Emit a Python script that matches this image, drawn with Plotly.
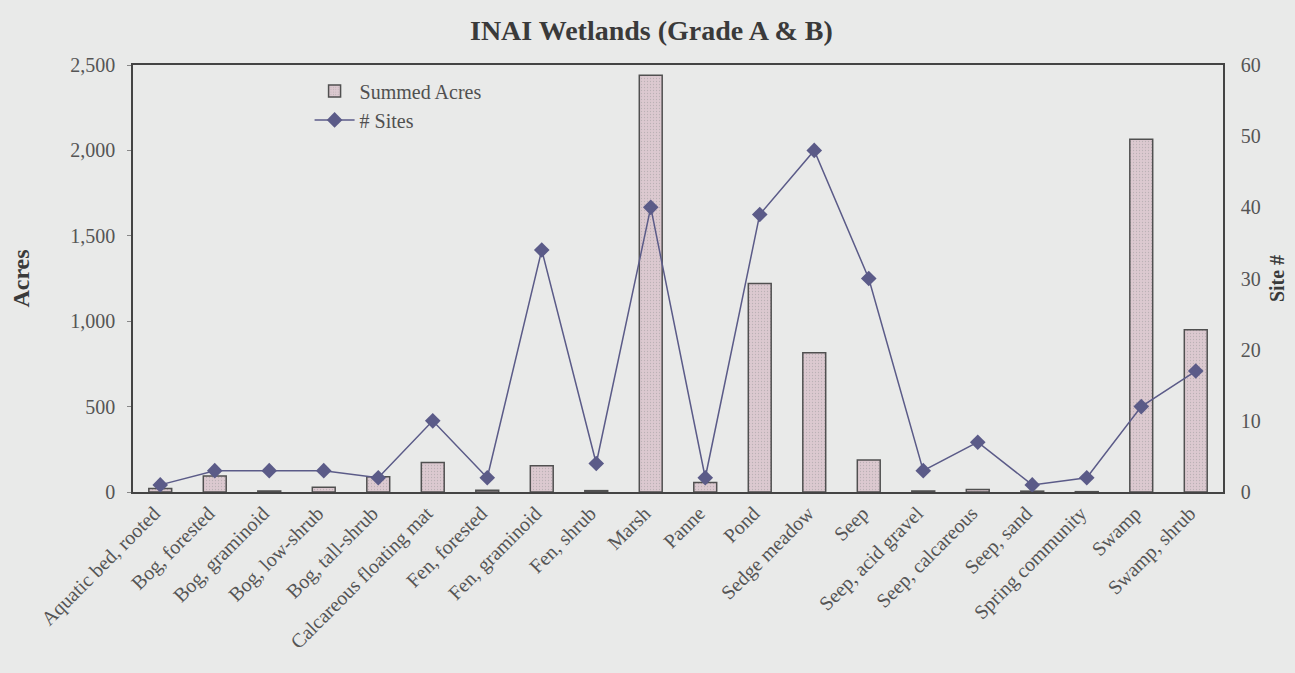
import plotly.graph_objects as go

categories = ["Aquatic bed, rooted", "Bog, forested", "Bog, graminoid", "Bog, low-shrub",
              "Bog, tall-shrub", "Calcareous floating mat", "Fen, forested", "Fen, graminoid",
              "Fen, shrub", "Marsh", "Panne", "Pond", "Sedge meadow", "Seep",
              "Seep, acid gravel", "Seep, calcareous", "Seep, sand", "Spring community",
              "Swamp", "Swamp, shrub"]
acres = [20, 94, 6, 28, 90, 172, 10, 154, 8, 2440, 55, 1220, 815, 187,
         6, 14, 5, 2, 2065, 950]
sites = [1, 3, 3, 3, 2, 10, 2, 34, 4, 40, 2, 39, 48, 30, 3, 7, 1, 2, 12, 17]

fig = go.Figure()
fig.add_trace(go.Bar(
    x=categories, y=acres, name="Summed Acres",
    marker=dict(color="#dcc9d0", line=dict(color="#505050", width=1.5),
                pattern=dict(shape=".", fgcolor="#9a9a9a", size=3, solidity=0.15)),
    width=0.42, yaxis="y",
))
fig.add_trace(go.Scatter(
    x=categories, y=sites, name="# Sites", mode="lines+markers",
    line=dict(color="#5b5b88", width=1.5),
    marker=dict(symbol="diamond", size=12, color="#5b5b88"),
    yaxis="y2",
))

font_serif = "Liberation Serif, Times New Roman, serif"
fig.update_layout(
    width=1295, height=673,
    paper_bgcolor="#e9eae9", plot_bgcolor="#e9eae9",
    margin=dict(l=133, r=72, t=65, b=181),
    font=dict(family=font_serif, size=20, color="#555555"),
    title=dict(text="<b>INAI Wetlands (Grade A & B)</b>", x=0.503, xanchor="center",
               y=0.955, yanchor="middle", font=dict(size=28, color="#3a3a3a")),
    showlegend=True,
    legend=dict(x=0.162, y=0.985, xanchor="left", yanchor="top", itemwidth=40,
                bgcolor="rgba(0,0,0,0)", font=dict(size=20, color="#505050"),
                tracegroupgap=0),
    xaxis=dict(tickangle=-45, showgrid=False, showline=True, linecolor="#444444",
               linewidth=1.5, mirror=True, ticks="", tickfont=dict(size=20),
               ticklabelshift=-6,
               range=[-0.5, len(categories) - 0.5], automargin=False),
    yaxis=dict(title=dict(text="<b>Acres</b>", font=dict(size=24, color="#3a3a3a"), standoff=34),
               range=[0, 2500], dtick=500, tickformat=",d",
               showgrid=False, showline=True, linecolor="#444444", linewidth=1.5,
               ticks="outside", ticklen=4, tickcolor="#888888", zeroline=False,
               ticklabelstandoff=8, automargin=False),
    yaxis2=dict(title=dict(text="<b>Site #</b>", font=dict(size=20, color="#3a3a3a"), standoff=10),
                overlaying="y", side="right", range=[0, 60], dtick=10,
                showgrid=False, showline=True, linecolor="#444444", linewidth=1.5,
                ticks="", zeroline=False, ticklabelstandoff=12, automargin=False),
)

fig.write_html("out.html", config={"displayModeBar": False},
               post_script="document.body.style.margin='0';")
